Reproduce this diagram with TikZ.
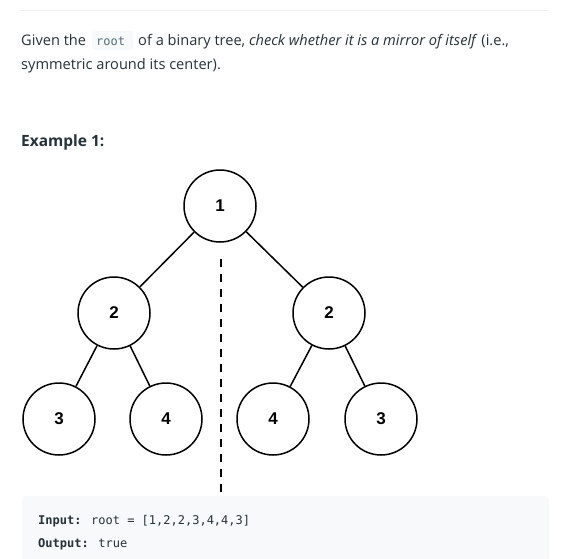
\documentclass[tikz,border=0pt]{standalone}
\usepackage{fontspec}
\setmainfont{Open Sans}
\newfontfamily\nodefont{Liberation Sans}
\newfontfamily\codefont{DejaVu Sans Mono}
\definecolor{txt}{HTML}{263238}
\definecolor{codebg}{HTML}{F7F9FA}
\definecolor{codetxt}{HTML}{546E7A}
\definecolor{rulec}{HTML}{EEEEEE}
\begin{document}
\begin{tikzpicture}[x=1pt,y=-1pt,
  treenode/.style={circle,draw=black,line width=1.5pt,minimum size=72pt,inner sep=0pt,font=\nodefont\bfseries\fontsize{17}{20}\selectfont},
  edge/.style={line width=1.5pt},
  para/.style={anchor=base west,inner sep=0pt,text=txt,font=\fontsize{14.6}{17}\selectfont},
  codeline/.style={anchor=base west,inner sep=0pt,text=txt,font=\codefont\fontsize{12}{14}\selectfont}]
\useasboundingbox (0,0) rectangle (568,558);
\fill[white] (0,0) rectangle (568,558);
\draw[rulec,line width=1pt] (20,10) -- (548,10);
% paragraph
\fill[codebg,rounded corners=3pt] (92,31) rectangle (133,50);
\node[anchor=base west,inner sep=0pt,text=codetxt,font=\codefont\fontsize{12}{14}\selectfont] (code1) at (96,45) {root};
\node[para] (l1a) at (21,45) {Given the};
\node[para] (l1b) at (138,45) {of a binary tree, \textit{check whether it is a mirror of itself} (i.e.,};
\node[para] (l2) at (21,69) {symmetric around its center).};
\node[para,font=\bfseries\fontsize{15.5}{18}\selectfont] (ex) at (21,146) {Example 1:};
% tree
\node[treenode] (n1) at (220,206) {1};
\node[treenode] (n2a) at (114,313) {2};
\node[treenode] (n2b) at (329,313) {2};
\node[treenode] (n3a) at (59,419) {3};
\node[treenode] (n4a) at (166,419) {4};
\node[treenode] (n4b) at (273,419) {4};
\node[treenode] (n3b) at (381,419) {3};
\draw[edge] (n1) -- (n2a);
\draw[edge] (n1) -- (n2b);
\draw[edge] (n2a) -- (n3a);
\draw[edge] (n2a) -- (n4a);
\draw[edge] (n2b) -- (n4b);
\draw[edge] (n2b) -- (n3b);
\coordinate (dtop) at (221,259);
\coordinate (dbot) at (221,494);
\draw[line width=2.6pt,dash pattern=on 8pt off 7pt] (dtop) -- (dbot);
% code block
\fill[codebg,rounded corners=4pt] (22,496) rectangle (549,570);
\node[codeline] (inp) at (38,524) {\textbf{Input:} root = [1,2,2,3,4,4,3]};
\node[codeline] (outp) at (38,547) {\textbf{Output:} true};
\end{tikzpicture}
\end{document}
